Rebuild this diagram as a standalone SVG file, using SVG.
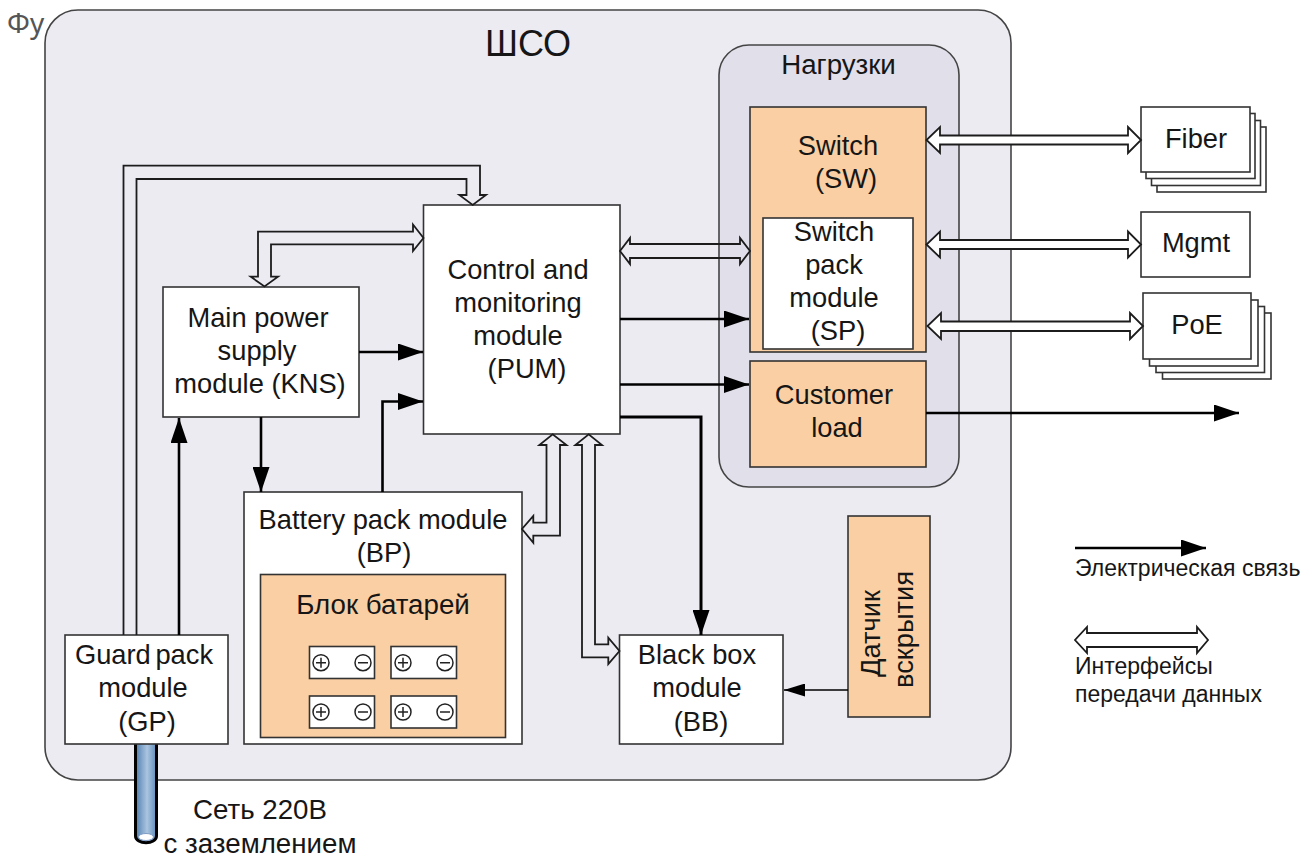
<svg xmlns="http://www.w3.org/2000/svg" width="1315" height="859" viewBox="0 0 1315 859">
<style>
text{font-family:"Liberation Sans",Arial,sans-serif;font-size:27.3px;fill:#161616;text-anchor:middle}
.b{stroke:#333;stroke-width:1.6}
.w{fill:#fff}
.o{fill:#f9cfa3}
.s{fill:none;stroke:#000;stroke-width:2.6;marker-end:url(#h)}
.d{fill:none;stroke:#1c1c1c;stroke-width:1.8}
.dw{fill:#fff;stroke:#1c1c1c;stroke-width:1.8}
.g{fill:none;stroke:#222;stroke-width:1.5}
.l{font-size:23px;text-anchor:start}
.c{font-size:27.7px}
</style>
<defs>
<marker id="h" markerUnits="userSpaceOnUse" markerWidth="25" markerHeight="17" viewBox="0 0 25 17" refX="25" refY="8.5" orient="auto"><path d="M0 0L25 8.5L0 17Z" fill="#000"/></marker>
<marker id="hs" markerUnits="userSpaceOnUse" markerWidth="21" markerHeight="13" viewBox="0 0 21 13" refX="21" refY="6.5" orient="auto"><path d="M0 0L21 6.5L0 13Z" fill="#000"/></marker>
<linearGradient id="cable" x1="0" x2="1" y1="0" y2="0"><stop offset="0" stop-color="#4f7eb0"/><stop offset=".55" stop-color="#aac5e0"/><stop offset="1" stop-color="#5f8cbb"/></linearGradient>
</defs>
<rect width="1315" height="859" fill="#fff"/>
<text x="7" y="33" style="font-family:'Noto Sans','Open Sans',sans-serif;font-size:28px;fill:#555;text-anchor:start">Фу</text>
<g id="shco">
<rect x="45" y="10" width="966" height="770" rx="33" fill="#ecebf2" stroke="#444" stroke-width="1.6"/>
<text x="528" y="56" style="font-size:36px">ШСО</text>
</g>
<g id="loads">
<rect x="719" y="45" width="240" height="442" rx="30" fill="#e0dfea" stroke="#444" stroke-width="1.6"/>
<text class="c" x="838.500" y="74">Нагрузки</text>
</g>
<g id="cable-220">
<path d="M135.500 740V836C135.500 845 156.500 845 156.500 836V740Z" fill="url(#cable)" stroke="#000" stroke-width="3"/>
<ellipse cx="146" cy="837" rx="7.500" ry="3.500" fill="#fff" stroke="#7f9cc4"/>
<text class="c" x="260" y="819">Сеть 220В</text>
<text class="c" x="260" y="853">с заземлением</text>
</g>
<g id="switch">
<rect class="b o" x="750" y="107" width="176" height="245"/>
<text x="838" y="155">Switch</text>
<text x="846" y="188">(SW)</text>
</g>
<g id="switch-pack">
<rect class="b w" x="763" y="218" width="150" height="131"/>
<text x="834" y="241">Switch</text>
<text x="834" y="274">pack</text>
<text x="834" y="307">module</text>
<text x="838" y="340">(SP)</text>
</g>
<g id="customer-load">
<rect class="b o" x="750" y="361" width="176" height="106"/>
<text x="834" y="404">Customer</text>
<text x="837" y="437">load</text>
</g>
<g id="pum">
<rect class="b w" x="423.500" y="205" width="196.500" height="229"/>
<text x="518" y="279">Control and</text>
<text x="518" y="312">monitoring</text>
<text x="518" y="345">module</text>
<text x="527" y="378">(PUM)</text>
</g>
<g id="kns">
<rect class="b w" x="163" y="287" width="196" height="130"/>
<text x="258" y="327">Main power</text>
<text x="257" y="360">supply</text>
<text x="260" y="393">module (KNS)</text>
</g>
<g id="bp">
<rect class="b w" x="244" y="492" width="278" height="252"/>
<text x="383" y="529">Battery pack module</text>
<text x="384" y="562">(BP)</text>
</g>
<g id="battery-block">
<rect class="b o" x="260.500" y="574.500" width="245" height="163"/>
<text class="c" x="383" y="614">Блок батарей</text>
<g id="batteries">
<rect class="b w" x="309.500" y="646.500" width="65" height="32"/>
<rect class="b w" x="391" y="646.500" width="65.500" height="32"/>
<rect class="b w" x="309.500" y="696" width="65" height="32"/>
<rect class="b w" x="391" y="696" width="65.500" height="32"/>
<path class="g" d="M316 662.700h10M321 657.700v10M358 662.700h10M398 662.700h10M403 657.700v10M440 662.700h10M316 712h10M321 707v10M358 712h10M398 712h10M403 707v10M440 712h10"/>
<circle class="g" cx="321" cy="662.700" r="8"/><circle class="g" cx="363" cy="662.700" r="8"/>
<circle class="g" cx="403" cy="662.700" r="8"/><circle class="g" cx="445" cy="662.700" r="8"/>
<circle class="g" cx="321" cy="712" r="8"/><circle class="g" cx="363" cy="712" r="8"/>
<circle class="g" cx="403" cy="712" r="8"/><circle class="g" cx="445" cy="712" r="8"/>
</g>
</g>
<g id="gp">
<rect class="b w" x="65" y="635" width="163" height="109"/>
<text x="144" y="664" style="word-spacing:-3px">Guard pack</text>
<text x="143" y="697">module</text>
<text x="147" y="731">(GP)</text>
</g>
<g id="bb">
<rect class="b w" x="619.500" y="635" width="163.500" height="109"/>
<text x="697" y="664">Black box</text>
<text x="697" y="697">module</text>
<text x="701" y="731">(BB)</text>
</g>
<g id="sensor">
<rect class="b o" x="848" y="516" width="82" height="201"/>
<text transform="translate(880 633.500) rotate(-90)">Датчик</text>
<text transform="translate(913 629.500) rotate(-90)">вскрытия</text>
</g>
<g id="fiber">
<rect class="b w" x="1157" y="127" width="109" height="65"/>
<rect class="b w" x="1151.500" y="120.500" width="109" height="65"/>
<rect class="b w" x="1146" y="113.500" width="109" height="65"/>
<rect class="b w" x="1141" y="107" width="109" height="65"/>
<text x="1196" y="148">Fiber</text>
</g>
<g id="mgmt">
<rect class="b w" x="1141" y="212" width="109" height="65"/>
<text x="1196" y="252">Mgmt</text>
</g>
<g id="poe">
<rect class="b w" x="1162.500" y="313" width="108.500" height="66"/>
<rect class="b w" x="1156" y="306.500" width="108.500" height="66"/>
<rect class="b w" x="1149.500" y="300" width="108.500" height="66"/>
<rect class="b w" x="1143" y="293" width="108" height="66"/>
<text x="1197" y="334">PoE</text>
</g>
<g id="connectors">
<path class="d" d="M123.500 635V165.700H480V195H486L472.700 205L459.300 195H466.500V179H136.500V635"/>
<path class="d" d="M271 276.700V244.300H413V251L423.500 238L413 224.500V231.700H258V276.700H250.700L264.500 286.500L278 276.700Z"/>
<path class="d" d="M546.500 445H539.300L552.700 434.300L566.500 445H560V535.700H533.300V542.700L522 529L533.300 516V522.700H546.500Z"/>
<path class="d" d="M582 445H575.300L588.700 434.300L602 445H595V644.300H608.300V637.700L619.500 651L608.300 664V657.300H582Z"/>
<path class="d" d="M630 244H740V238L750 251L740 264V258H630V264L620 251L630 238Z"/>
<path class="dw" d="M940 135.500H1128V127L1141 140L1128 153V144.500H940V153L926.500 140L940 127Z"/>
<path class="dw" d="M940 240H1128V231.500L1141 244.500L1128 257.500V249H940V257.500L926.500 244.500L940 231.500Z"/>
<path class="dw" d="M941 321.500H1130V313L1143 326L1130 339V331H941V339L927.500 326L941 313Z"/>
<path class="s" d="M359 352H423"/>
<path class="s" d="M382.500 492V401.500H423"/>
<path class="s" d="M261 417V492"/>
<path class="s" d="M179 635V418"/>
<path class="s" style="stroke-width:3" d="M620 417H701V635"/>
<path class="s" d="M620 319H749"/>
<path class="s" d="M620 384.500H749"/>
<path class="s" d="M926 413H1239"/>
<path style="fill:none;stroke:#000;stroke-width:1.6;marker-end:url(#hs)" d="M848 690H784"/>
</g>
<g id="legend">
<path class="s" d="M1075 548H1206"/>
<text class="l" x="1075" y="576">Электрическая связь</text>
<path class="dw" d="M1087 633H1197V627L1208 640L1197 653V647H1087V653L1075 640L1087 627Z"/>
<text class="l" x="1075" y="674">Интерфейсы</text>
<text class="l" x="1075" y="702">передачи данных</text>
</g>
</svg>
